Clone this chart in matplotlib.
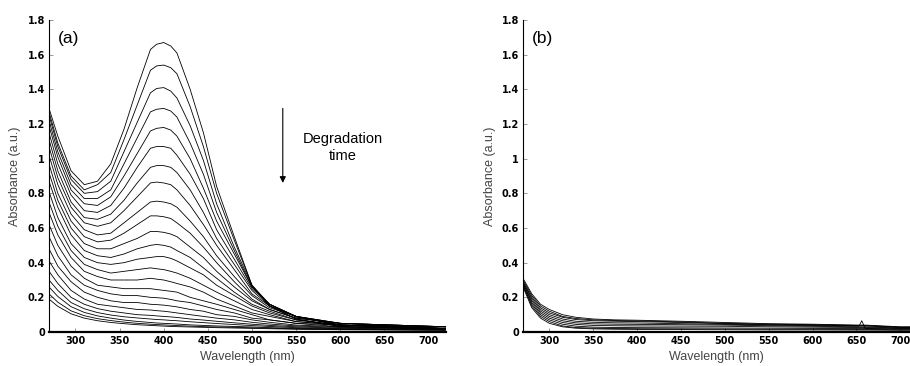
import matplotlib
matplotlib.use('Agg')
import matplotlib.pyplot as plt

# wavelength grid (nm) for the dye spectra in panel (a)
wavelength_a = [270, 280, 295, 310, 325, 340, 355, 370, 385, 392, 400, 408,
                415, 430, 445, 460, 480, 500, 520, 550, 600, 720]

# absorbance spectra, first scan at the top, later scans below
spectra_a = [
    [1.29, 1.13, 0.93, 0.85, 0.87, 0.97, 1.17, 1.41, 1.63, 1.66, 1.67, 1.65, 1.61, 1.40, 1.15, 0.84, 0.55, 0.27, 0.15, 0.075, 0.032, 0.015],
    [1.27, 1.09, 0.90, 0.82, 0.85, 0.92, 1.11, 1.31, 1.51, 1.535, 1.54, 1.525, 1.49, 1.30, 1.07, 0.80, 0.53, 0.27, 0.15, 0.075, 0.032, 0.015],
    [1.25, 1.07, 0.88, 0.80, 0.81, 0.87, 1.04, 1.21, 1.38, 1.405, 1.41, 1.39, 1.35, 1.19, 0.99, 0.74, 0.49, 0.27, 0.16, 0.086, 0.04, 0.019],
    [1.22, 1.04, 0.85, 0.77, 0.77, 0.82, 0.97, 1.12, 1.27, 1.285, 1.29, 1.275, 1.24, 1.09, 0.91, 0.69, 0.47, 0.26, 0.16, 0.09, 0.04, 0.02],
    [1.19, 1.01, 0.82, 0.74, 0.73, 0.78, 0.90, 1.03, 1.16, 1.175, 1.18, 1.165, 1.13, 1.00, 0.83, 0.64, 0.45, 0.26, 0.16, 0.09, 0.04, 0.02],
    [1.15, 0.97, 0.79, 0.70, 0.69, 0.73, 0.83, 0.95, 1.06, 1.07, 1.07, 1.06, 1.02, 0.91, 0.77, 0.59, 0.42, 0.25, 0.16, 0.09, 0.04, 0.02],
    [1.11, 0.93, 0.75, 0.66, 0.65, 0.68, 0.76, 0.86, 0.95, 0.96, 0.96, 0.95, 0.92, 0.82, 0.69, 0.54, 0.39, 0.24, 0.15, 0.09, 0.05, 0.02],
    [1.07, 0.89, 0.72, 0.63, 0.61, 0.63, 0.70, 0.78, 0.86, 0.865, 0.86, 0.85, 0.82, 0.73, 0.62, 0.50, 0.36, 0.22, 0.15, 0.09, 0.05, 0.03],
    [1.02, 0.85, 0.68, 0.59, 0.56, 0.57, 0.63, 0.69, 0.75, 0.755, 0.75, 0.74, 0.72, 0.64, 0.55, 0.44, 0.32, 0.21, 0.14, 0.09, 0.05, 0.03],
    [0.97, 0.80, 0.64, 0.55, 0.52, 0.53, 0.57, 0.62, 0.67, 0.67, 0.665, 0.655, 0.63, 0.57, 0.49, 0.40, 0.29, 0.19, 0.13, 0.08, 0.05, 0.03],
    [0.92, 0.76, 0.60, 0.51, 0.48, 0.48, 0.51, 0.54, 0.58, 0.58, 0.575, 0.565, 0.55, 0.49, 0.43, 0.35, 0.26, 0.18, 0.13, 0.08, 0.05, 0.03],
    [0.87, 0.72, 0.56, 0.47, 0.44, 0.43, 0.45, 0.48, 0.50, 0.505, 0.50, 0.49, 0.47, 0.43, 0.37, 0.31, 0.23, 0.16, 0.12, 0.07, 0.04, 0.03],
    [0.81, 0.66, 0.51, 0.43, 0.40, 0.39, 0.40, 0.42, 0.43, 0.435, 0.435, 0.425, 0.41, 0.37, 0.33, 0.27, 0.21, 0.15, 0.11, 0.07, 0.04, 0.03],
    [0.75, 0.61, 0.47, 0.39, 0.36, 0.34, 0.35, 0.36, 0.37, 0.365, 0.36, 0.35, 0.34, 0.31, 0.27, 0.23, 0.18, 0.13, 0.10, 0.06, 0.04, 0.02],
    [0.69, 0.56, 0.43, 0.35, 0.32, 0.30, 0.30, 0.30, 0.31, 0.305, 0.30, 0.29, 0.28, 0.26, 0.23, 0.19, 0.15, 0.11, 0.09, 0.06, 0.04, 0.02],
    [0.62, 0.50, 0.38, 0.31, 0.27, 0.26, 0.25, 0.25, 0.25, 0.245, 0.24, 0.235, 0.23, 0.20, 0.18, 0.16, 0.13, 0.10, 0.07, 0.05, 0.04, 0.02],
    [0.55, 0.44, 0.33, 0.27, 0.24, 0.22, 0.21, 0.21, 0.20, 0.198, 0.195, 0.188, 0.18, 0.17, 0.15, 0.13, 0.11, 0.08, 0.07, 0.05, 0.03, 0.02],
    [0.48, 0.38, 0.29, 0.23, 0.20, 0.18, 0.17, 0.17, 0.16, 0.158, 0.155, 0.15, 0.145, 0.13, 0.12, 0.10, 0.09, 0.07, 0.056, 0.04, 0.03, 0.02],
    [0.41, 0.33, 0.24, 0.19, 0.16, 0.15, 0.14, 0.13, 0.127, 0.123, 0.12, 0.115, 0.11, 0.10, 0.09, 0.08, 0.07, 0.056, 0.046, 0.035, 0.026, 0.017],
    [0.35, 0.28, 0.20, 0.16, 0.135, 0.12, 0.11, 0.10, 0.096, 0.093, 0.09, 0.087, 0.084, 0.075, 0.069, 0.062, 0.053, 0.045, 0.038, 0.03, 0.022, 0.015],
    [0.30, 0.24, 0.17, 0.134, 0.112, 0.098, 0.088, 0.081, 0.075, 0.072, 0.07, 0.067, 0.065, 0.059, 0.054, 0.049, 0.043, 0.037, 0.032, 0.025, 0.019, 0.014],
    [0.26, 0.205, 0.146, 0.113, 0.093, 0.08, 0.069, 0.061, 0.055, 0.052, 0.05, 0.048, 0.046, 0.041, 0.038, 0.035, 0.032, 0.029, 0.025, 0.021, 0.017, 0.012],
    [0.22, 0.172, 0.122, 0.094, 0.077, 0.066, 0.057, 0.05, 0.045, 0.043, 0.041, 0.039, 0.037, 0.034, 0.031, 0.029, 0.027, 0.024, 0.022, 0.018, 0.015, 0.011],
    [0.19, 0.148, 0.105, 0.08, 0.065, 0.055, 0.048, 0.042, 0.038, 0.036, 0.034, 0.032, 0.031, 0.029, 0.027, 0.025, 0.023, 0.021, 0.019, 0.016, 0.013, 0.01],
]

# panel (b): blank run, nearly flat spectra
wavelength_b = [270, 280, 290, 300, 315, 330, 350, 375, 400, 450,
                500, 550, 600, 650, 653, 656, 660, 700, 711]

spectra_b = [
    [0.31, 0.22, 0.16, 0.13, 0.10, 0.085, 0.075, 0.07, 0.068, 0.062, 0.055, 0.048, 0.045, 0.04, 0.04, 0.04, 0.04, 0.03, 0.03],
    [0.30, 0.21, 0.15, 0.12, 0.09, 0.078, 0.07, 0.066, 0.064, 0.058, 0.05, 0.045, 0.042, 0.038, 0.038, 0.038, 0.037, 0.028, 0.028],
    [0.29, 0.20, 0.14, 0.11, 0.085, 0.072, 0.065, 0.062, 0.06, 0.055, 0.048, 0.042, 0.04, 0.036, 0.036, 0.036, 0.035, 0.026, 0.026],
    [0.29, 0.19, 0.13, 0.10, 0.075, 0.062, 0.056, 0.053, 0.052, 0.048, 0.044, 0.04, 0.037, 0.034, 0.034, 0.065, 0.02, 0.024, 0.024],
    [0.28, 0.18, 0.12, 0.09, 0.065, 0.053, 0.047, 0.045, 0.044, 0.042, 0.04, 0.036, 0.033, 0.03, 0.03, 0.03, 0.03, 0.022, 0.022],
    [0.28, 0.17, 0.11, 0.08, 0.055, 0.044, 0.038, 0.036, 0.035, 0.034, 0.033, 0.03, 0.028, 0.026, 0.026, 0.026, 0.026, 0.02, 0.02],
    [0.27, 0.16, 0.10, 0.07, 0.045, 0.034, 0.028, 0.026, 0.025, 0.024, 0.023, 0.022, 0.021, 0.02, 0.02, 0.02, 0.02, 0.016, 0.016],
    [0.27, 0.15, 0.09, 0.06, 0.035, 0.026, 0.022, 0.02, 0.019, 0.018, 0.017, 0.016, 0.016, 0.015, 0.015, 0.015, 0.015, 0.013, 0.013],
    [0.26, 0.14, 0.08, 0.05, 0.03, 0.022, 0.018, 0.016, 0.015, 0.014, 0.013, 0.012, 0.012, 0.011, 0.011, 0.011, 0.011, 0.01, 0.01],
]

x_ticks = [300, 350, 400, 450, 500, 550, 600, 650, 700]
y_ticks = [0, 0.2, 0.4, 0.6, 0.8, 1, 1.2, 1.4, 1.6, 1.8]
y_tick_labels = ['0', '0.2', '0.4', '0.6', '0.8', '1', '1.2', '1.4', '1.6', '1.8']

TEXT_FONT = ['Liberation Sans', 'DejaVu Sans']


def style_axes(ax, xmax, tag):
    ax.set_xlim(270, xmax)
    ax.set_ylim(0, 1.8)
    ax.spines['top'].set_visible(False)
    ax.spines['right'].set_visible(False)
    ax.spines['left'].set_linewidth(0.8)
    ax.spines['bottom'].set_linewidth(1.6)
    ax.set_xticks(x_ticks)
    ax.set_yticks(y_ticks)
    ax.set_yticklabels(y_tick_labels)
    ax.tick_params(direction='in', length=3, width=0.6, color='#888888',
                   labelsize=7, pad=3)
    for lab in ax.get_xticklabels() + ax.get_yticklabels():
        lab.set_fontweight('bold')
    ax.set_xlabel('Wavelength (nm)', fontsize=9, color='#444444', family=TEXT_FONT)
    ax.set_ylabel('Absorbance (a.u.)', fontsize=9, color='#444444', family=TEXT_FONT)
    ax.xaxis.set_label_coords(0.5, -0.062)
    ax.yaxis.set_label_coords(-0.07, 0.5)
    ax.text(0.022, 0.942, tag, transform=ax.transAxes, fontsize=12.5,
            ha='left', va='center', family=TEXT_FONT)


fig = plt.figure(figsize=(9.1, 3.66), dpi=100)
ax_a = fig.add_axes([49 / 910, 34 / 366, 397 / 910, 312 / 366])
ax_b = fig.add_axes([523 / 910, 34 / 366, 387 / 910, 312 / 366])

for row in spectra_a:
    ax_a.plot(wavelength_a, row, color='black', lw=0.6)
for row in spectra_b:
    ax_b.plot(wavelength_b, row, color='black', lw=0.6)

style_axes(ax_a, 720, '(a)')
style_axes(ax_b, 711, '(b)')

ax_a.annotate('', xy=(535, 0.86), xytext=(535, 1.29),
              arrowprops=dict(arrowstyle='-|>', color='black', lw=0.8,
                              mutation_scale=9, shrinkA=0, shrinkB=0))
ax_a.text(603, 1.065, 'Degradation\ntime', fontsize=10.5, ha='center',
          va='center', linespacing=1.25, family=TEXT_FONT)

fig.savefig('out.png', dpi=100)
